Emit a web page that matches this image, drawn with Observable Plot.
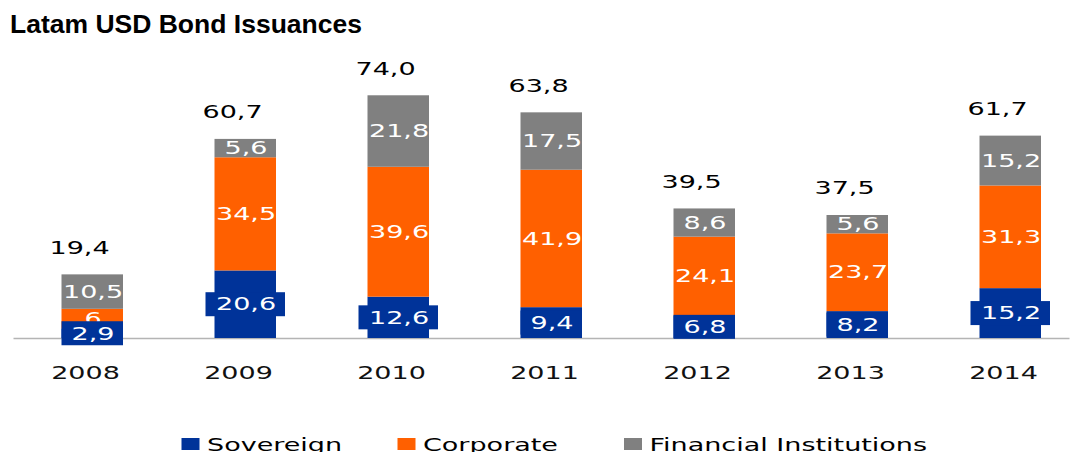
<!DOCTYPE html>
<html><head><meta charset="utf-8">
<script src="https://cdn.jsdelivr.net/npm/d3@7"></script>
<script src="https://cdn.jsdelivr.net/npm/@observablehq/plot@0.6"></script>
<style>
html,body{margin:0;padding:0;background:#fff;width:1070px;height:452px;overflow:hidden;position:relative}
#title{position:absolute;left:10px;top:10.5px;font:bold 26.5px "Liberation Sans",Arial,sans-serif;line-height:1;color:#000;white-space:nowrap}
#stretch{position:absolute;left:0;top:40px;width:713px;height:420px;transform:scaleX(1.5);transform-origin:0 0}
#chart{position:absolute;left:0;top:0}
#legend{position:absolute;left:0;top:395.8px;width:713px;height:30px;font:18px "DejaVu Sans",sans-serif;line-height:1;color:#000}
.item{position:absolute;top:0;white-space:nowrap}
.sw{position:absolute;top:2.2px;left:0;width:12px;height:12px}
.lbl{position:absolute;top:0;white-space:nowrap}
</style>
</head><body>
<div id="title">Latam USD Bond Issuances</div>
<div id="stretch"><div id="chart"></div><div id="legend"></div></div>
<script>
const years = ["2008","2009","2010","2011","2012","2013","2014"];
const sovereign = [2.9, 20.6, 12.6, 9.4, 6.8, 8.2, 15.2];
const corporate = [6, 34.5, 39.6, 41.9, 24.1, 23.7, 31.3];
const financial = [10.5, 5.6, 21.8, 17.5, 8.6, 5.6, 15.2];
const totals = [19.4, 60.7, 74.0, 63.8, 39.5, 37.5, 61.7];
const series = ["Sovereign", "Corporate", "Financial Institutions"];
const colors = ["#003399", "#ff6000", "#808080"];

const fmt = v => (Number.isInteger(v) ? String(v) : v.toFixed(1)).replace(".", ",");

const table = years.flatMap((yr, i) => [
  {year: yr, type: series[0], value: sovereign[i]},
  {year: yr, type: series[1], value: corporate[i]},
  {year: yr, type: series[2], value: financial[i]}
]);
const tot = years.map((yr, i) => ({year: yr, sum: sovereign[i] + corporate[i] + financial[i], label: totals[i]}));
const sov = years.map((yr, i) => ({year: yr, value: sovereign[i]}));

const chart = Plot.plot({
  width: 713, height: 385,
  marginLeft: 9, marginRight: 0, marginTop: 35.6, marginBottom: 87,
  x: {domain: years, range: [40, 694], paddingInner: 0.602, paddingOuter: 0, label: null},
  y: {domain: [0, 80], axis: null},
  color: {domain: series, range: colors},
  style: {fontFamily: "DejaVu Sans", fontSize: "18px", background: "transparent", overflow: "visible", color: "#111"},
  marks: [
    Plot.ruleY([0], {stroke: "#b4b4b4", strokeWidth: 1.5}),
    Plot.barY(table, Plot.stackY({x: "year", y: "value", fill: "type"})),
    Plot.text(table, Plot.stackY({x: "year", y: "value", z: "type", text: d => fmt(d.value), fill: "white"})),
    Plot.barY(sov.filter(d => d.value >= 10), {x: "year", y1: d => d.value / 2, y2: d => d.value / 2, fill: colors[0], insetLeft: -6, insetRight: -6, insetTop: -12, insetBottom: -12}),
    Plot.barY(sov.filter(d => d.value < 10), {x: "year", y1: d => d.value / 2, y2: d => d.value / 2, fill: colors[0], insetTop: -12, insetBottom: -12}),
    Plot.text(sov, {x: "year", y: d => d.value / 2, text: d => fmt(d.value), fill: "white"}),
    Plot.text(tot, {x: "year", y: "sum", text: d => d.label.toFixed(1).replace(".", ","), dy: -27, dx: -9, fill: "#000"}),
    Plot.axisX({tickSize: 0, tickPadding: 28, dx: -5, label: null, fill: "#111"})
  ]
});
document.getElementById("chart").appendChild(chart);

const legendPos = [121, 265, 416];
const legend = document.getElementById("legend");
series.forEach((s, i) => {
  const item = document.createElement("div");
  item.className = "item";
  item.style.left = legendPos[i] + "px";
  const sw = document.createElement("span");
  sw.className = "sw";
  sw.style.background = colors[i];
  const lb = document.createElement("span");
  lb.className = "lbl";
  lb.style.left = "17px";
  lb.textContent = s;
  item.appendChild(sw); item.appendChild(lb);
  legend.appendChild(item);
});
</script>
</body></html>
